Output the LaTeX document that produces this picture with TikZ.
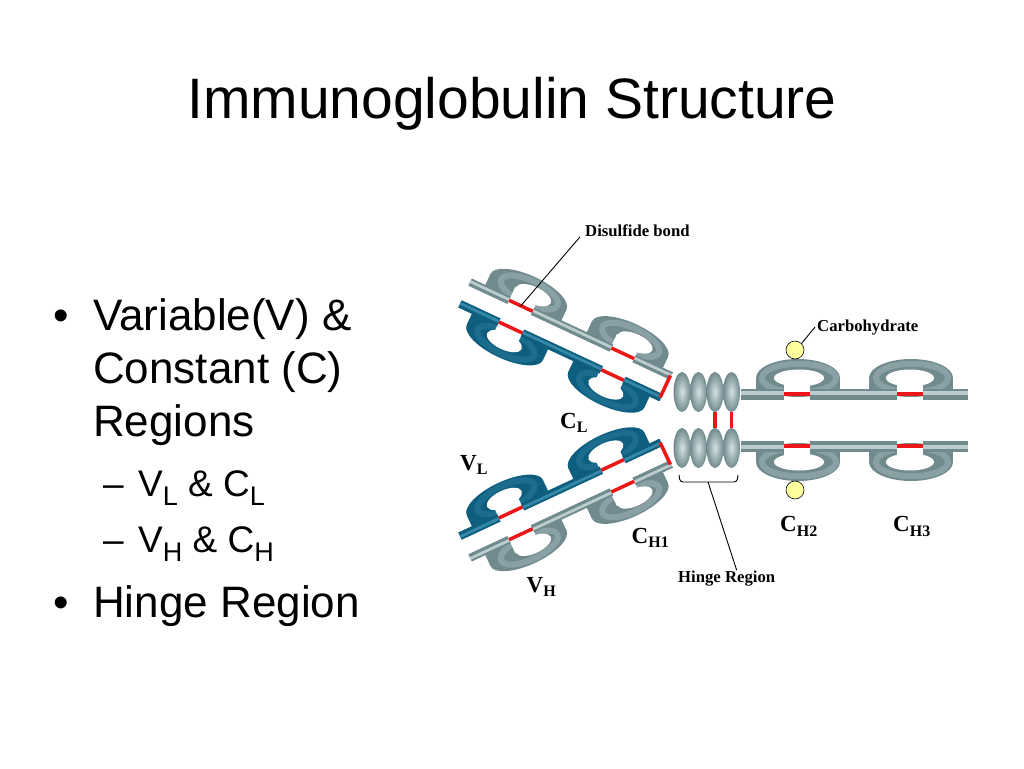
\documentclass[tikz,border=0pt]{standalone}
\usepackage{fontspec}
\setmainfont{Liberation Serif}
\newfontfamily\slidefont{Liberation Sans}
\usetikzlibrary{shapes.geometric}

\definecolor{greydark}{RGB}{112,138,142}
\definecolor{greylight}{RGB}{186,204,206}
\definecolor{bluedark}{RGB}{14,94,128}
\definecolor{bluelight}{RGB}{52,136,168}
\definecolor{ssred}{RGB}{236,22,22}
\definecolor{sugaryellow}{RGB}{255,255,160}

\tikzset{
  slidetitle/.style={font=\slidefont\fontsize{57}{57}\selectfont, anchor=base, inner sep=0},
  bulletline/.style={font=\slidefont\fontsize{44}{44}\selectfont, anchor=base west, inner sep=0},
  subline/.style={font=\slidefont\fontsize{37}{37}\selectfont, anchor=base west, inner sep=0},
  lbl/.style={font=\fontsize{23}{23}\selectfont\bfseries, anchor=base west, inner sep=0},
  note/.style={font=\fontsize{16.7}{20}\selectfont\bfseries, anchor=base west, inner sep=0},
  ssbond/.style={draw=ssred, line width=3.5},
  pointer/.style={draw=black, line width=0.9},
  hingebead/.style={ellipse, minimum width=17, minimum height=40, inner sep=0,
    inner color=greylight!60!white, outer color=greydark},
  sugar/.style={circle, draw=black, line width=0.6, fill=sugaryellow, minimum size=18, inner sep=0},
}

% subscripts
\newcommand\lsub[1]{\raisebox{-4.5pt}{\fontsize{16}{16}\selectfont #1}}
\newcommand\bsub[1]{\raisebox{-9pt}{\fontsize{27}{27}\selectfont #1}}

% domain: colour, red centre, outer centre v, outer y radius, hole shift u, hole centre v, hole x radius
\newcommand\dom[7]{%
  \fill[#1dark] (#2+1,#3) ellipse [x radius=42, y radius=#4];
  \fill[#1dark] (#2-41,#3) rectangle (#2+43,0);
  \draw[#1light, line width=6, opacity=.35] (#2+2,{(#3+#3+#6)/3}) ellipse [x radius={#7+12}, y radius={#4*0.75}];
  \fill[white] (#2+#5,#6) ellipse [x radius=#7, y radius=8.5];
  \fill[white] (#2-13,#6) rectangle (#2+13,0);
}
% chain piece: colour, v, from, to, half width
\newcommand\chainbar[5]{%
  \fill[#1dark] (#3,#2-#5) rectangle (#4,#2+#5);
  \fill[#1light] (#3,#2-#5/2) rectangle (#4,#2+#5/5);
}
% one half of the molecule, relative to the axis
\newcommand\halfig[1]{%
  \begin{scope}[shift={(465,-127)}, rotate=-25]
    \begin{scope}[shift={(0,-12)}]
      \dom{grey}{56}{-16}{16}{7}{-15}{19}
      \dom{grey}{168}{-16}{16}{7}{-15}{19}
      \foreach \ua/\ub in {0/43, 69/156, 181/222} {\chainbar{grey}{0}{\ua}{\ub}{4}}
      \foreach \ua/\ub in {43/69, 156/181} {\draw[ssbond] (\ua,0) -- (\ub,0);}
      \coordinate (#1-ss) at (56,0);
    \end{scope}
    \begin{scope}[shift={(0,12)}]
      \dom{blue}{56}{16}{16}{0}{15}{19}
      \dom{blue}{168}{16}{16}{0}{15}{19}
      \foreach \ua/\ub in {0/43, 69/156, 181/222} {\chainbar{blue}{0}{\ua}{\ub}{4}}
      \foreach \ua/\ub in {43/69, 156/181} {\draw[ssbond] (\ua,0) -- (\ub,0);}
    \end{scope}
    \draw[ssbond] (221,-12) -- (221,12);
  \end{scope}
  \begin{scope}[shift={(0,-26)}]
    \dom{grey}{797}{-16}{19}{2}{-16}{25}
    \dom{grey}{910}{-16}{19}{0}{-16}{24}
    \foreach \ua/\ub in {741/784, 810/897, 923/968} {\chainbar{grey}{0}{\ua}{\ub}{5.5}}
    \foreach \ua/\ub in {784/810, 897/923} {\draw[ssbond] (\ua,0) -- (\ub,0);}
  \end{scope}
  \node[sugar] (#1-sugar) at (795,-70) {};
  \foreach \i/\x in {1/682, 2/698.5, 3/715, 4/731.5} {\node[hingebead] (#1-h\i) at (\x,-28) {};}
}

\begin{document}
\begin{tikzpicture}[x=1pt, y=-1pt]
  \useasboundingbox (0,0) rectangle (1024,768);
  \fill[white] (0,0) rectangle (1024,768);
  \node[slidetitle] (title) at (512,118) {Immunoglobulin Structure};

  % bullet text
  \node[bulletline] (b1) at (53,330) {•};
  \node[bulletline] (t1) at (93,330) {Variable(V) \&};
  \node[bulletline] (t2) at (93,383) {Constant (C)};
  \node[bulletline] (t3) at (93,436) {Regions};
  \node[subline] (d1) at (103,496) {–};
  \node[subline] (s1) at (138,496) {V\bsub{L} \& C\bsub{L}};
  \node[subline] (d2) at (103,552) {–};
  \node[subline] (s2) at (138,552) {V\bsub{H} \& C\bsub{H}};
  \node[bulletline] (b2) at (53,617) {•};
  \node[bulletline] (t4) at (93,617) {Hinge Region};

  % antibody, upper half and its mirror image
  \begin{scope}[shift={(0,420)}]
    \halfig{up}
  \end{scope}
  \begin{scope}[shift={(0,420)}, yscale=-1]
    \halfig{lo}
  \end{scope}
  \draw[ssbond] (up-h3.south) -- (lo-h3.north);
  \draw[ssbond] (up-h4.south) -- (lo-h4.north);

  % labels
  \node[lbl] (cl) at (560,428) {C\lsub{L}};
  \node[lbl] (vl) at (460,470) {V\lsub{L}};
  \node[lbl] (ch1) at (631.5,543) {C\lsub{H1}};
  \node[lbl] (vh) at (526.5,592) {V\lsub{H}};
  \node[lbl] (ch2) at (780,531.5) {C\lsub{H2}};
  \node[lbl] (ch3) at (893,531.5) {C\lsub{H3}};
  \node[note] (ssl) at (585,236.5) {Disulfide bond};
  \node[note] (carb) at (817,331) {Carbohydrate};
  \node[note] (hinge) at (678,582) {Hinge Region};
  \draw[pointer] ([xshift=-5pt]ssl.south west) -- (up-ss);
  \draw[pointer] ([xshift=-2pt]carb.west) -- (up-sugar.north east);
  \coordinate (hingemid) at (708,482);
  \draw[pointer, rounded corners=3] (679,475) -- (680,482) -- (737,482) -- (738,475);
  \draw[pointer] (hingemid) -- ([xshift=10pt]hinge.north);
\end{tikzpicture}
\end{document}
